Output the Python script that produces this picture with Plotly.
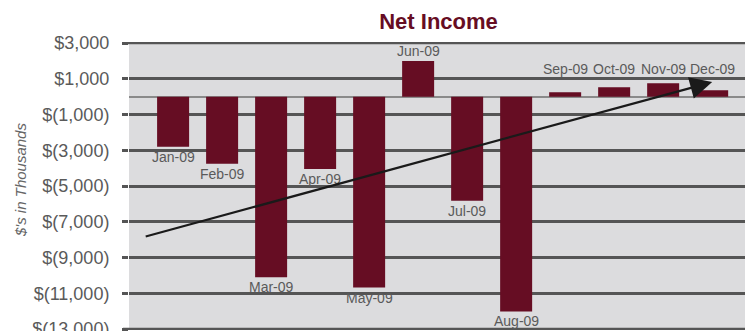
import plotly.graph_objects as go

months = ["Jan-09", "Feb-09", "Mar-09", "Apr-09", "May-09", "Jun-09",
          "Jul-09", "Aug-09", "Sep-09", "Oct-09", "Nov-09", "Dec-09"]
net_income = [-2800, -3750, -10100, -4050, -10680, 2000,
              -5820, -12020, 250, 530, 750, 360]
tick_values = [3000, 1000, -1000, -3000, -5000, -7000, -9000, -11000, -13000]
tick_labels = ["$3,000", "$1,000", "$(1,000)", "$(3,000)", "$(5,000)",
               "$(7,000)", "$(9,000)", "$(11,000)", "$(13,000)"]
# hand-drawn trend arrow: (category index, value) for tail and head
trend_tail = (-0.59, -7850)
trend_head = (11.0, 815)
label_floor = 1000  # positive-bar labels sit at least at this level

BAR = "#660d23"
GRID = "#555555"
TXT = "#5a5a5a"

fig = go.Figure()
fig.add_trace(go.Bar(x=months, y=net_income, marker_color=BAR,
                     marker_line_width=0, hoverinfo="skip"))

annotations = []
for m, v in zip(months, net_income):
    if v < 0:
        annotations.append(dict(x=m, y=v, text=m, showarrow=False, yanchor="top",
                                yshift=0, font=dict(size=14, color=TXT)))
    else:
        annotations.append(dict(x=m, y=max(v, label_floor), text=m, showarrow=False,
                                yanchor="bottom", yshift=0, font=dict(size=14, color=TXT)))

annotations.append(dict(x=trend_head[0], y=trend_head[1], ax=trend_tail[0], ay=trend_tail[1],
                        xref="x", yref="y", axref="x", ayref="y", text="",
                        showarrow=True, arrowhead=2, arrowsize=2.0, arrowwidth=2.2,
                        arrowcolor="#1a1a1a", standoff=0))

annotations.append(dict(xref="paper", yref="paper", x=(20 - 129) / 616, y=(330 - 180) / 288,
                        text="<i>$'s in Thousands</i>", textangle=-90, showarrow=False,
                        xanchor="center", yanchor="middle",
                        font=dict(size=15, color="#666666")))

# edge grid lines (top and bottom ticks), extended left like the tick marks
shapes = []
for tv in (tick_values[0], tick_values[-1]):
    shapes.append(dict(type="line", xref="paper", yref="y", x0=-6 / 616, x1=1,
                       y0=tv, y1=tv, line=dict(color=GRID, width=2.5), layer="above"))

fig.update_layout(
    width=752, height=331,
    margin=dict(l=129, r=7, t=42, b=1, autoexpand=False),
    paper_bgcolor="white",
    plot_bgcolor="#dcdcde",
    font=dict(family="Liberation Sans, Arial, sans-serif", color=TXT),
    showlegend=False,
    bargap=0.347,
    title=dict(text="<b>Net Income</b>", xref="container", yref="container",
               x=438.5 / 752, y=1 - 21 / 331, xanchor="center", yanchor="middle",
               font=dict(size=22, color=BAR)),
    annotations=annotations,
    shapes=shapes,
)
fig.update_xaxes(range=[-0.9, 11.67], showticklabels=False, showgrid=False,
                 ticks="", showline=False, zeroline=False, automargin=False)
fig.update_yaxes(range=[-13056, 3056], tickvals=tick_values, ticktext=tick_labels,
                 showgrid=True, gridcolor=GRID, gridwidth=2.5,
                 ticks="outside", ticklen=6, tickwidth=2.5, tickcolor=GRID,
                 ticklabelstandoff=9, ticklabeloverflow="allow", automargin=False,
                 tickfont=dict(size=18, color=TXT),
                 zeroline=True, zerolinecolor="#8a8a8a", zerolinewidth=1.5,
                 showline=False)

fig.write_html("out.html")
